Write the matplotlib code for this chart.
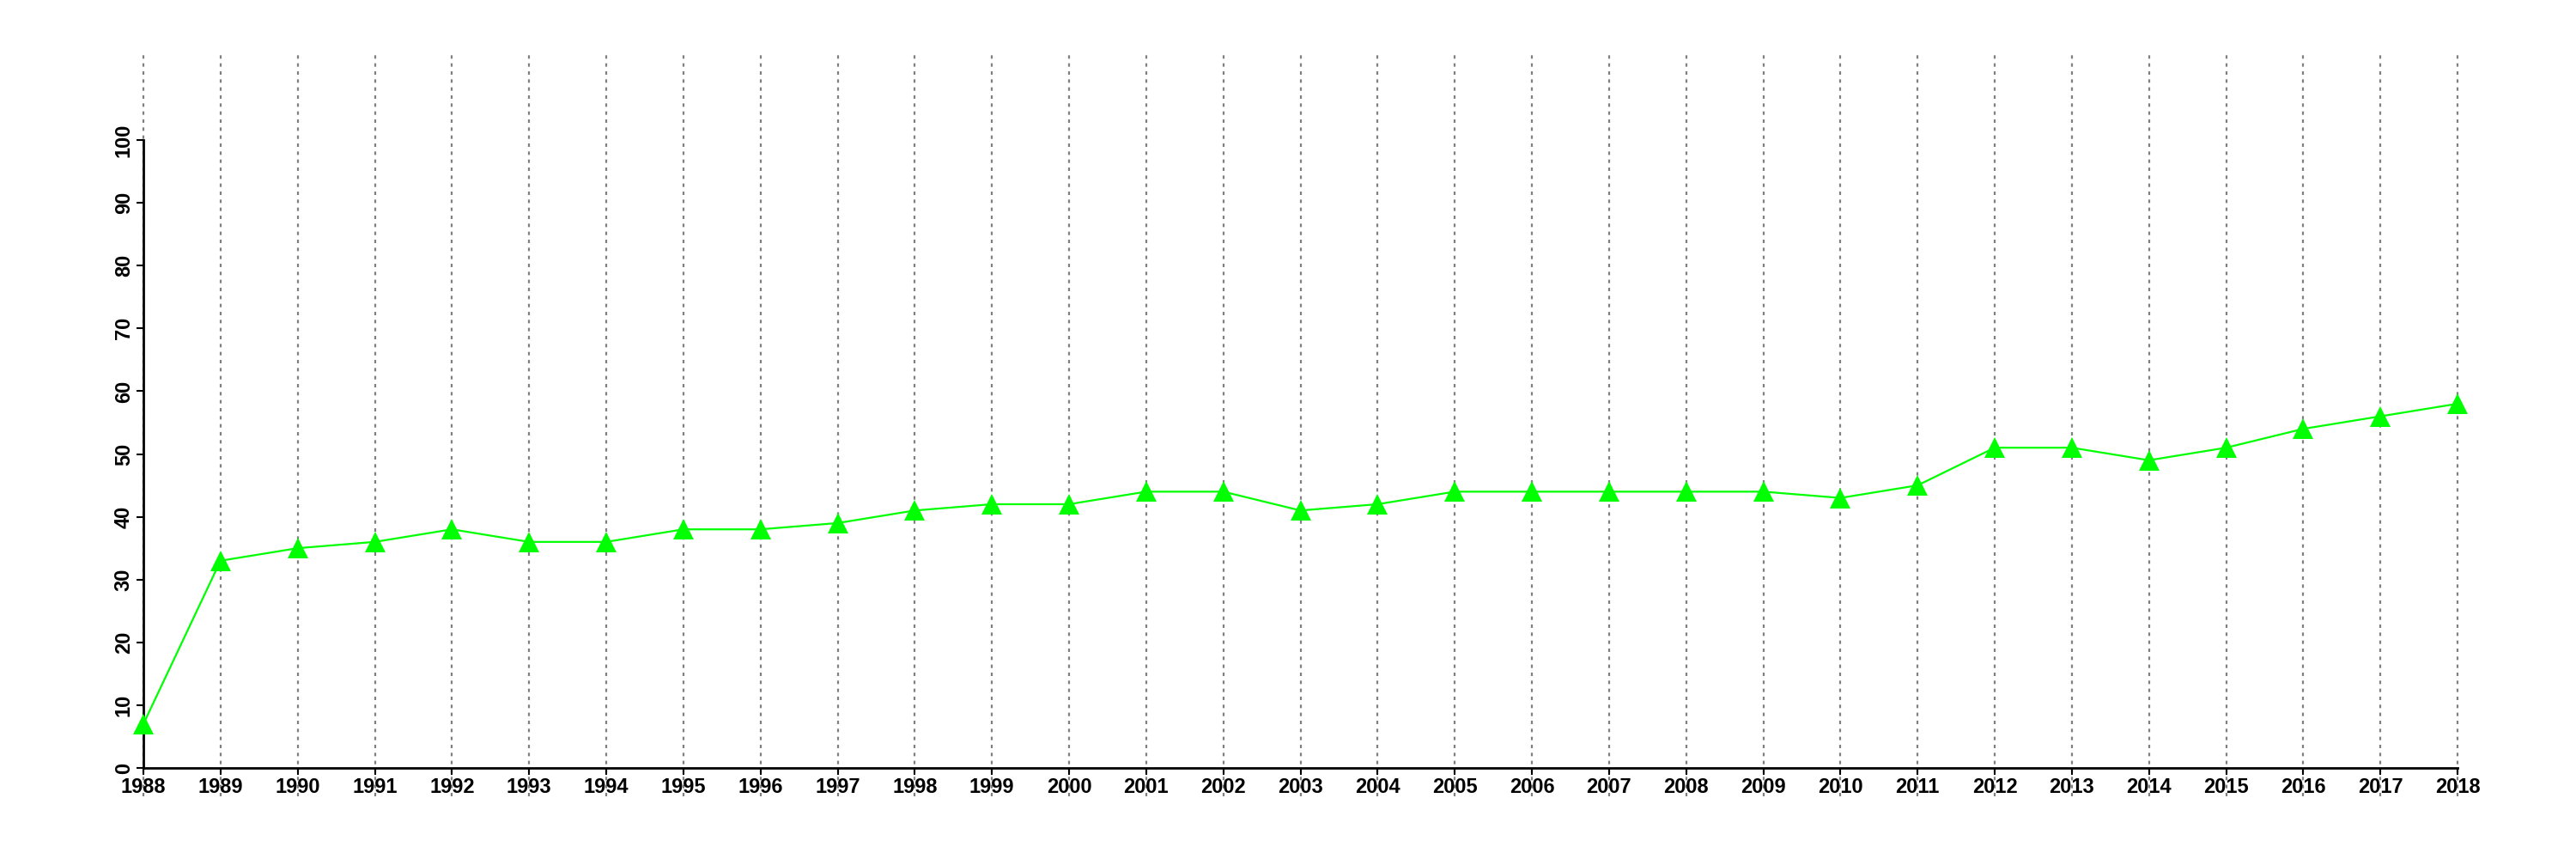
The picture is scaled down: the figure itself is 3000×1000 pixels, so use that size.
import matplotlib
matplotlib.use("Agg")
import matplotlib.pyplot as plt

years = list(range(1988, 2019))
values = [7, 33, 35, 36, 38, 36, 36, 38, 38, 39, 41, 42, 42, 44, 44, 41,
          42, 44, 44, 44, 44, 44, 43, 45, 51, 51, 49, 51, 54, 56, 58]
yticks = [0, 10, 20, 30, 40, 50, 60, 70, 80, 90, 100]

plt.rcParams['font.family'] = ['Liberation Sans', 'DejaVu Sans']

fig = plt.figure(figsize=(30, 10), dpi=100)
ax = fig.add_axes([0, 0, 1, 1])

# map pixels: 1988 -> x=167, 2018 -> x=2862 ; 0 -> y=894, 100 -> y=163
px_per_year = (2862 - 167) / 30.0
px_per_unit = (894 - 163) / 100.0
ax.set_xlim(1988 - 167 / px_per_year, 1988 + (3000 - 167) / px_per_year)
ax.set_ylim(-(1000 - 894) / px_per_unit, 894 / px_per_unit)

# dotted vertical grid lines, running past the plot frame
ax.vlines(years, -4.5, 114.2, colors='#808080', linestyles=(0, (1.8, 2.4)),
          linewidth=1.6, zorder=1)

ax.plot(years, values, color='#00FF00', linewidth=1.6, marker='^',
        markersize=17, markeredgewidth=0, clip_on=False, zorder=3)

for s in ['top', 'right']:
    ax.spines[s].set_visible(False)
ax.spines['left'].set_position(('data', 1988))
ax.spines['bottom'].set_position(('data', 0))
ax.spines['left'].set_bounds(0, 100)
ax.spines['bottom'].set_bounds(1988, 2018)
ax.spines['left'].set_linewidth(2)
ax.spines['bottom'].set_linewidth(2)

ax.set_xticks(years)
ax.set_xticklabels([str(y) for y in years], fontsize=17, fontweight='bold')
ax.set_yticks(yticks)
ax.set_yticklabels([str(v) for v in yticks], fontsize=17, fontweight='bold',
                   rotation=90, va='center')
ax.tick_params(axis='both', direction='out', length=6, width=1.5, pad=2)

fig.savefig("out.png", dpi=100)
